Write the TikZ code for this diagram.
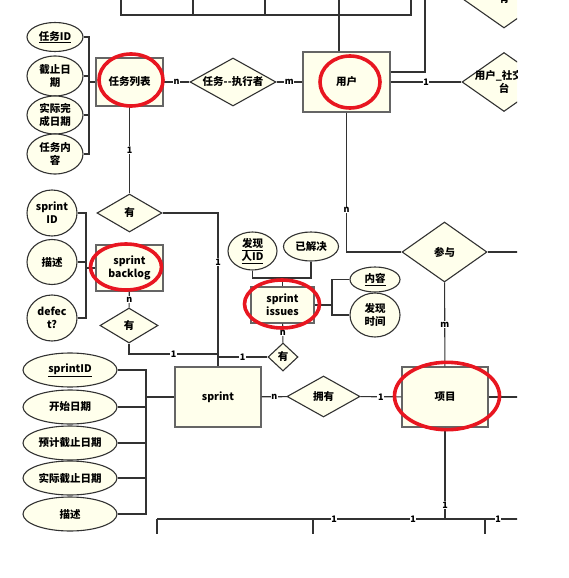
\documentclass[tikz,border=0pt]{standalone}
\usepackage{fontspec}
\setmainfont{Noto Sans CJK SC}
\usetikzlibrary{shapes.geometric}
\definecolor{cream}{RGB}{255,255,236}
\definecolor{edge}{RGB}{50,50,50}
\definecolor{ring}{RGB}{232,22,32}

\begin{document}
\begin{tikzpicture}[x=1pt, y=-1pt,
    ent/.style={rectangle, draw=edge!75, fill=cream, line width=1.4pt, inner sep=1pt, align=center, font=\fontsize{10.5}{13}\selectfont\bfseries},
    attr/.style={ellipse, draw=edge, fill=cream, line width=1.1pt, inner sep=0pt, align=center, font=\fontsize{10.5}{13}\selectfont\bfseries},
    rel/.style={diamond, draw=edge, fill=cream, line width=1.1pt, inner sep=0pt, align=center, font=\fontsize{10.5}{13}\selectfont\bfseries},
    lbl/.style={align=center, font=\fontsize{10.5}{13}\selectfont\bfseries},
    link/.style={draw=edge, line width=1.1pt},
    card/.style={fill=white, inner sep=0.6pt, font=\fontsize{9}{9}\selectfont\bfseries},
    redring/.style={draw=ring, line width=3.6pt}]
    \useasboundingbox (0,0) rectangle (569,578);
    \begin{scope}
    \clip (0,0) rectangle (517,533);

    % cut-off part at the top
    \coordinate (ubus) at (339,15);
    \coordinate (uright) at (425,72);
    \coordinate (utop) at (425,-5);
    \draw[link] (121,-5) -- (121,15) -- (411,15) -- (411,-5);
    \draw[link] (193,-5) -- (193,15);
    \draw[link] (265,-5) -- (265,15);
    \draw[link] (339,-5) -- (339,15);
    \node[rel, aspect=1.42, minimum width=84pt, minimum height=59pt] (topdia) at (504,-1.5) {有};

    % task list and user
    \node[ent, minimum width=67pt, minimum height=48pt] (tasklist) at (129.5,82) {任务列表};
    \node[rel, aspect=1.8, minimum width=86pt, minimum height=48pt] (exec) at (233,82) {任务-{}-执行者};
    \node[ent, minimum width=87pt, minimum height=60pt] (user) at (346.5,82) {用户};
    \node[rel, aspect=1.42, minimum width=84pt, minimum height=59pt] (social) at (504,82) {};
    \node[lbl] (socialtxt) at (social) {用户\_社交平\\台};

    % task list attributes
    \node[attr, minimum width=56pt, minimum height=29pt] (tid) at (55,37) {\underline{任务ID}};
    \node[attr, minimum width=56pt, minimum height=40pt] (tdead) at (55,76) {截止日\\期};
    \node[attr, minimum width=56pt, minimum height=38pt] (tdone) at (55,115) {实际完\\成日期};
    \node[attr, minimum width=56pt, minimum height=40pt] (tcont) at (55,154) {任务内\\容};
    \coordinate (tbus) at (89,82);

    % sprint backlog
    \node[rel, aspect=1.7, minimum width=65pt, minimum height=38pt] (has1) at (129.5,213) {有};
    \node[ent, minimum width=67pt, minimum height=46pt] (backlog) at (129.5,268) {sprint\\backlog};
    \node[rel, aspect=1.66, minimum width=58pt, minimum height=35pt] (has2) at (129,325.5) {有};
    \node[attr, minimum width=50pt, minimum height=46pt] (sid) at (52,213) {sprint\\ID};
    \node[attr, minimum width=50pt, minimum height=45pt] (bdesc) at (52,262) {描述};
    \node[attr, minimum width=50pt, minimum height=46pt] (defect) at (52,318) {defec\\t?};
    \coordinate (bbus) at (86,268);

    % sprint issues
    \node[ent, minimum width=63pt, minimum height=36pt] (issues) at (282.5,305) {sprint\\issues};
    \node[rel, aspect=1.07, minimum width=30pt, minimum height=28pt] (has3) at (283,357) {有};
    \node[attr, minimum width=49pt, minimum height=38pt] (finder) at (252.5,251) {\underline{发现}\\\underline{人ID}};
    \node[attr, minimum width=55pt, minimum height=29pt] (solved) at (311,246.5) {已解决};
    \node[attr, minimum width=50pt, minimum height=25pt] (content) at (375,279.5) {\underline{内容}};
    \node[attr, minimum width=50pt, minimum height=44pt] (ftime) at (375,315) {发现\\时间};
    \coordinate (itop) at (282.5,278);
    \coordinate (iright) at (332,305);

    % sprint and project
    \node[ent, minimum width=86pt, minimum height=60pt] (sprint) at (218,397) {sprint};
    \node[rel, aspect=1.78, minimum width=73pt, minimum height=41pt] (own) at (323.5,396.5) {拥有};
    \node[ent, minimum width=86pt, minimum height=60pt] (project) at (445,397) {项目};
    \node[rel, aspect=1.42, minimum width=85pt, minimum height=60pt] (join) at (444.5,252) {参与};
    \node[attr, minimum width=94pt, minimum height=34pt] (spid) at (70,370) {\underline{sprintID}};
    \node[attr, minimum width=94pt, minimum height=34pt] (start) at (70,407) {开始日期};
    \node[attr, minimum width=94pt, minimum height=34pt] (plan) at (70,443) {预计截止日期};
    \node[attr, minimum width=94pt, minimum height=34pt] (real) at (70,478) {实际截止日期};
    \node[attr, minimum width=94pt, minimum height=34pt] (sdesc) at (70,514) {描述};
    \coordinate (sbus) at (146,397);
    \coordinate (j1) at (218,354);
    \coordinate (j2) at (218,357);
    \coordinate (pbus) at (445,519);
    \coordinate (bl) at (157,519);
    \coordinate (br) at (530,519);

    % connectors
    \draw[link] (ubus) -- (ubus |- user.north);
    \draw[link] (user.east |- uright) -- (uright) -- (utop);
    \draw[link] (tid.east) -| (tbus);
    \draw[link] (tdead.east) -| (tbus);
    \draw[link] (tdone.east) -| (tbus);
    \draw[link] (tcont.east) -| (tbus);
    \draw[link] (tbus) -- (tasklist.west);
    \draw[link] (tasklist) -- node[card]{n} (exec);
    \draw[link] (exec) -- node[card]{m} (user);
    \draw[link] (user) -- node[card]{1} (social);
    \draw[link] (user.south) |- node[card, pos=0.35]{n} (join.west);
    \draw[link] (join.east) -- +(40,0);
    \draw[link] (join) -- node[card]{m} (project);
    \draw[link] (project.east) -- +(40,0);

    \draw[link] (tasklist) -- node[card]{1} (has1);
    \draw[link] (has1.east) -| node[card, pos=0.66]{1} (sprint.north);
    \draw[link] (sid.east) -| (bbus);
    \draw[link] (bdesc.east) -| (bbus);
    \draw[link] (defect.east) -| (bbus);
    \draw[link] (bbus) -- (backlog.west);
    \draw[link] (backlog) -- node[card]{n} (has2);
    \draw[link] (has2.south) |- node[card, pos=0.75]{1} (j1);
    \draw[link] (j2) -- node[card]{1} (has3.west);
    \draw[link] (issues) -- node[card]{n} (has3);

    \draw[link] (finder.south) |- (itop) -| (solved.south);
    \draw[link] (itop) -- (issues.north);
    \draw[link] (issues.east) -- (iright);
    \draw[link] (content.west) -| (iright);
    \draw[link] (ftime.west) -| (iright);

    \draw[link] (spid.east) -| (sbus);
    \draw[link] (start.east) -| (sbus);
    \draw[link] (plan.east) -| (sbus);
    \draw[link] (real.east) -| (sbus);
    \draw[link] (sdesc.east) -| (sbus);
    \draw[link] (sbus) -- (sprint.west);
    \draw[link] (sprint) -- node[card]{n} (own);
    \draw[link] (own) -- node[card]{1} (project);

    % bottom bus, cut off
    \draw[link] (project) -- node[card, pos=0.85]{1} (pbus);
    \draw[link] (bl) -- (br);
    \draw[link, line width=1.8pt] (313,519) -- (pbus);
    \draw[link] (bl) -- +(0,20);
    \draw[link] (313,519) -- +(0,20);
    \draw[link] (485,519) -- +(0,20);
    \node[card] (c1) at (334,519) {1};
    \node[card] (c2) at (413,519) {1};
    \node[card] (c3) at (498,519) {1};

    % red marks
    \draw[redring] (131,80) ellipse (32pt and 26pt);
    \draw[redring] (350,82) ellipse (30pt and 26pt);
    \draw[redring] (126,267) ellipse (35.5pt and 23pt);
    \draw[redring] (282,304) ellipse (37.5pt and 24pt);
    \draw[redring] (447,396) ellipse (52.5pt and 33.7pt);
    \end{scope}
\end{tikzpicture}
\end{document}
